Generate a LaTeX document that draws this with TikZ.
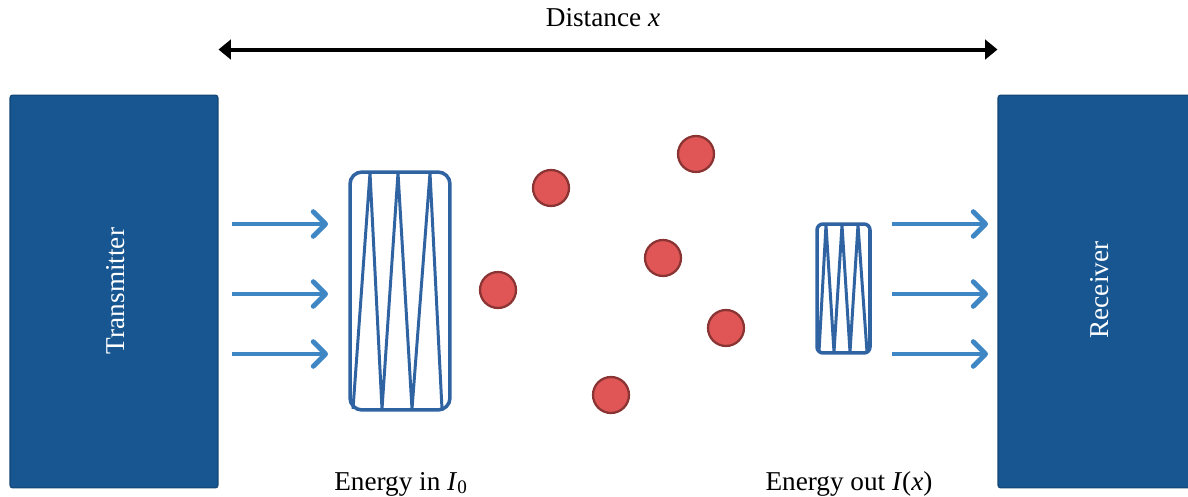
\documentclass[tikz,border=0pt]{standalone}
\usepackage{fontspec}
\setmainfont{Liberation Serif}
\usetikzlibrary{positioning, arrows.meta}
\definecolor{boxblue}{HTML}{175690}
\definecolor{arrblue}{HTML}{3F86C4}
\definecolor{wavblue}{HTML}{2F63A2}
\definecolor{dotred}{HTML}{E05656}
\definecolor{dotedge}{HTML}{8A3434}

\begin{document}
\begin{tikzpicture}[
      x=0.02cm, y=-0.02cm,
      station/.style={rectangle, fill=boxblue, draw=boxblue!80!black,
      line width=0.6pt, rounded corners=1.5pt, minimum width=4.16cm,
      minimum height=7.86cm, inner sep=0pt},
      stlabel/.style={text=white, rotate=90, inner sep=0pt,
      font=\fontsize{15.5}{18}\selectfont},
      lbl/.style={font=\fontsize{15.5}{18}\selectfont, inner sep=0pt},
      flow/.style={arrblue, line width=2.8pt,
      -{Straight Barb[length=7pt, width=14pt, round]}},
      span/.style={black, line width=2.3pt,
      {Triangle[length=7pt, width=11pt]}-{Triangle[length=7pt, width=11pt]}},
      packet/.style={rectangle, draw=wavblue, line width=2pt,
      inner sep=0pt},
      wave/.style={wavblue, line width=1.7pt, line join=round},
      particle/.style={circle, fill=dotred, draw=dotedge, line width=1.3pt,
      minimum size=0.72cm, inner sep=0pt}
    ]
    \useasboundingbox (0,0) rectangle (1188,497);

    % Stations
    \node[station] (tx) at (114,291.5) {};
    \node[stlabel] (txlbl) at (116,291) {Transmitter};
    \node[station] (rx) at (1102,291.5) {};
    \node[stlabel] (rxlbl) at (1100,290) {Receiver};

    % Distance
    \draw[span] ([yshift=0.9cm]tx.north east) -- ([yshift=0.9cm]rx.north west);
    \node[lbl, anchor=base] (dist) at (603,27) {Distance \textit{x}};

    % Incoming and outgoing rays
    \foreach \y [count=\i] in {224,294,354}{
      \coordinate (a\i) at (232,\y);
      \coordinate (b\i) at (328,\y);
      \coordinate (c\i) at (892,\y);
      \coordinate (d\i) at (988,\y);
      \draw[flow] (a\i) -- (b\i);
      \draw[flow] (c\i) -- (d\i);
    }

    % Wave packet in
    \node[packet, rounded corners=0.24cm, minimum width=2cm,
    minimum height=4.76cm] (pin) at (400,291) {};
    \draw[wave] (353,409) -- (370,173) -- (382,409) -- (398,173)
    -- (412,409) -- (430,173) -- (442,409);

    % Wave packet out
    \node[packet, rounded corners=0.12cm, minimum width=1.06cm,
    minimum height=2.58cm] (pout) at (843.5,288.5) {};
    \draw[wave] (819,352) -- (826,225) -- (834,352) -- (842,225)
    -- (850,352) -- (858,225) -- (867,352);

    % Scatterers
    \node[particle] (p1) at (551,188) {};
    \node[particle] (p2) at (696,154) {};
    \node[particle] (p3) at (663,258) {};
    \node[particle] (p4) at (498,290) {};
    \node[particle] (p5) at (726,328) {};
    \node[particle] (p6) at (611,395) {};

    % Energy labels
    \node[lbl, anchor=base] (ein) at (401,490) {Energy in \textit{I}\textsubscript{0}};
    \node[lbl, anchor=base] (eout) at (849,490) {Energy out \textit{I}(\textit{x})};

  \end{tikzpicture}
\end{document}
